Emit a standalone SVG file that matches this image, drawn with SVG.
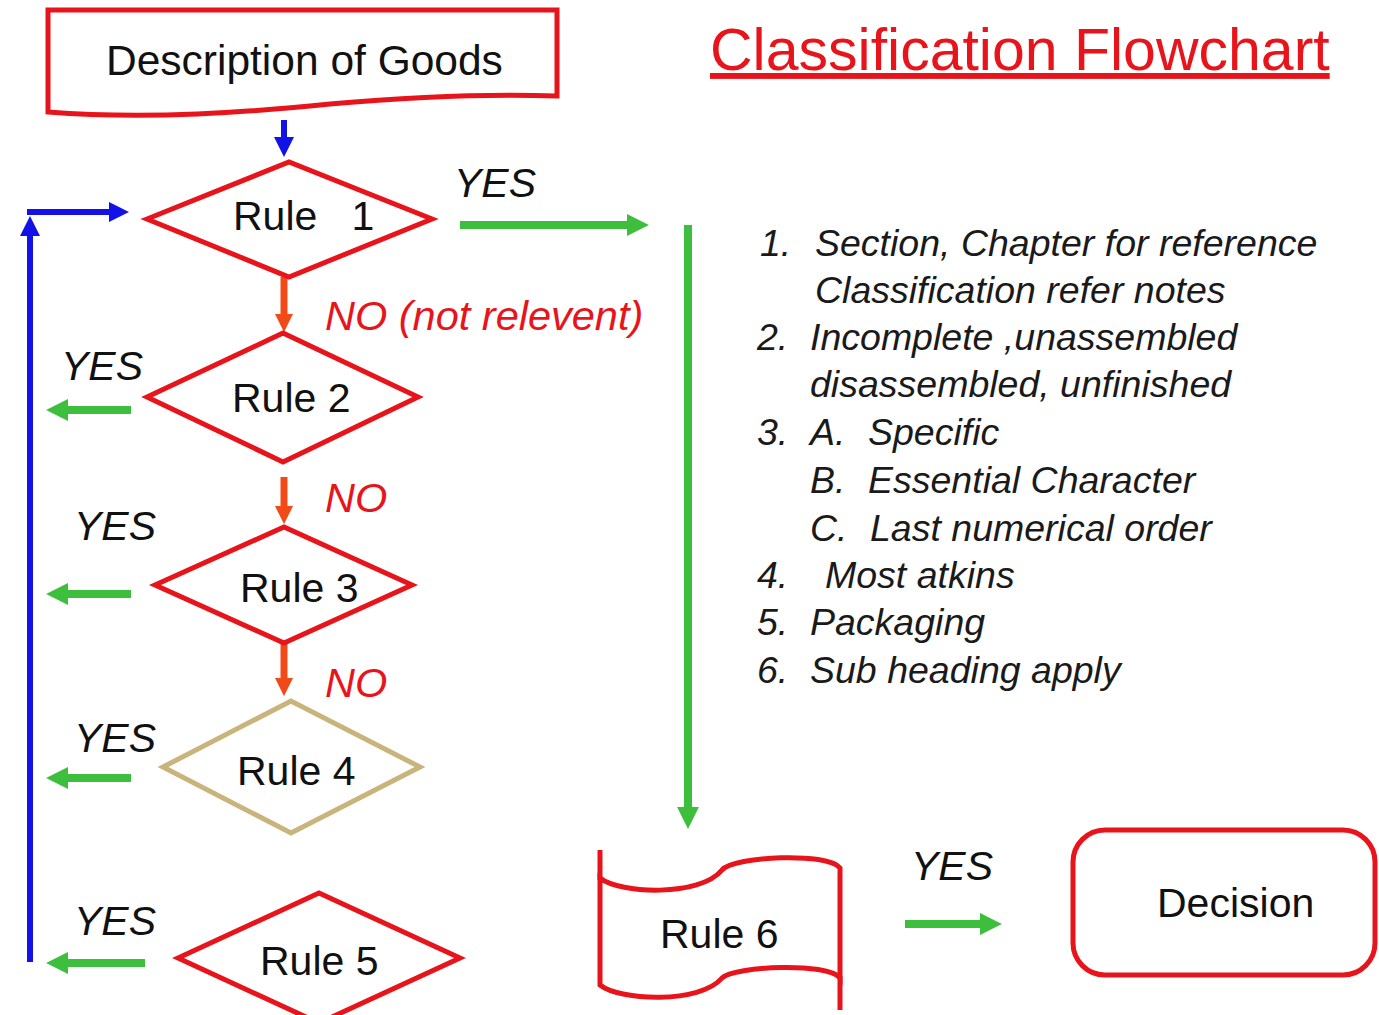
<svg xmlns="http://www.w3.org/2000/svg" width="1379" height="1015" viewBox="0 0 1379 1015">
<style>
.t{font-family:"Liberation Sans",Arial,sans-serif;fill:#111}
.lbl{font-size:41px}
.yes{font-family:"Liberation Sans",Arial,sans-serif;font-style:italic;font-size:41px;fill:#111}
.no{font-family:"Liberation Sans",Arial,sans-serif;font-style:italic;font-size:41.5px;fill:#E8141B}
.li{font-family:"Liberation Sans",Arial,sans-serif;font-style:italic;font-size:37.5px;fill:#1a1a1a}
.red{fill:#fff;stroke:#E8141B;stroke-width:5;stroke-linejoin:miter}
.tan{fill:#fff;stroke:#C9B47C;stroke-width:5}
.g{stroke:#3DBE3D;stroke-width:8;fill:none;marker-end:url(#ag)}
.b{stroke:#1212E8;stroke-width:6;fill:none;marker-end:url(#ab)}
.o{stroke:#F04A18;stroke-width:7;fill:none;marker-end:url(#ao)}
</style>
<defs>
<marker id="ag" viewBox="0 0 10 10" refX="0.5" refY="5" markerUnits="userSpaceOnUse" markerWidth="22" markerHeight="26" orient="auto"><path d="M0,0 L10,5 L0,10 z" fill="#3DBE3D"/></marker>
<marker id="ab" viewBox="0 0 10 10" refX="0.5" refY="5" markerUnits="userSpaceOnUse" markerWidth="20" markerHeight="22" orient="auto"><path d="M0,0 L10,5 L0,10 z" fill="#1212E8"/></marker>
<marker id="ao" viewBox="0 0 10 10" refX="0.5" refY="5" markerUnits="userSpaceOnUse" markerWidth="18" markerHeight="22" orient="auto"><path d="M0,0 L10,5 L0,10 z" fill="#F04A18"/></marker>
</defs>
<rect width="1379" height="1015" fill="#fff"/>

<g id="title">
<text x="710" y="70" font-family="Liberation Sans,Arial,sans-serif" font-size="59" fill="#E8141B" text-decoration="underline">Classification Flowchart</text>
</g>

<g id="connectors">
<line class="b" x1="284" y1="120" x2="284" y2="138"/>
<line class="b" x1="30" y1="962" x2="30" y2="235"/>
<line class="b" x1="27" y1="212" x2="110" y2="212"/>
<line class="g" x1="460" y1="225" x2="628" y2="225"/>
<line class="g" x1="688" y1="225" x2="688" y2="808"/>
<line class="o" x1="284" y1="277" x2="284" y2="315"/>
<line class="o" x1="284" y1="477" x2="284" y2="507"/>
<line class="o" x1="284" y1="643" x2="284" y2="679"/>
<line class="g" x1="131" y1="410" x2="67" y2="410"/>
<line class="g" x1="131" y1="594" x2="67" y2="594"/>
<line class="g" x1="131" y1="778" x2="67" y2="778"/>
<line class="g" x1="145" y1="963" x2="67" y2="963"/>
<line class="g" x1="905" y1="924" x2="981" y2="924"/>
<text class="yes" x="454" y="197">YES</text>
<text class="no" x="325" y="330">NO (not relevent)</text>
<text class="no" x="325" y="512">NO</text>
<text class="no" x="325" y="697">NO</text>
<text class="yes" x="61" y="380">YES</text>
<text class="yes" x="74" y="540">YES</text>
<text class="yes" x="74" y="752">YES</text>
<text class="yes" x="74" y="935">YES</text>
<text class="yes" x="911" y="880">YES</text>
</g>

<g id="description">
<path class="red" d="M48,10 L557,10 L557,96 C500,94 420,96 330,104 C250,112 150,120 48,112 Z"/>
<text class="t" x="106" y="75" font-size="42.5">Description of Goods</text>
</g>

<g id="rule1">
<polygon class="red" points="147,219 289,162 432,219 289,277"/>
<text class="t lbl" x="233" y="230" style="white-space:pre">Rule   1</text>
</g>

<g id="rule2">
<polygon class="red" points="147,397 283,333 418,397 283,462"/>
<text class="t lbl" x="232" y="412">Rule 2</text>
</g>

<g id="rule3">
<polygon class="red" points="155,585 284,527 412,585 284,643"/>
<text class="t lbl" x="240" y="602">Rule 3</text>
</g>

<g id="rule4">
<polygon class="tan" points="163,767 291,701 420,767 291,833"/>
<text class="t lbl" x="237" y="785">Rule 4</text>
</g>

<g id="rule5">
<polygon class="red" points="178,958 319,893 460,958 319,1023"/>
<text class="t lbl" x="260" y="975">Rule 5</text>
</g>

<g id="rule6">
<path class="red" d="M600,878 C620,894 700,897 722,870 C734,856 828,852 840,868 L840,978 C828,962 734,966 722,978 C700,1004 620,1001 600,985 Z"/>
<path d="M600,850 L600,880 M840,976 L840,1010" stroke="#E8141B" stroke-width="5" fill="none"/>
<text class="t lbl" x="660" y="948">Rule 6</text>
</g>

<g id="decision">
<rect class="red" x="1073" y="830" width="302" height="145" rx="32"/>
<text class="t lbl" x="1157" y="917">Decision</text>
</g>

<g id="notes">
<text class="li" x="760" y="256">1.</text><text class="li" x="815" y="256">Section, Chapter for reference</text>
<text class="li" x="815" y="303">Classification refer notes</text>
<text class="li" x="757" y="350">2.</text><text class="li" x="810" y="350">Incomplete ,unassembled</text>
<text class="li" x="810" y="397">disassembled, unfinished</text>
<text class="li" x="757" y="445">3.</text><text class="li" x="810" y="445">A.</text><text class="li" x="868" y="445">Specific</text>
<text class="li" x="810" y="493">B.</text><text class="li" x="868" y="493">Essential Character</text>
<text class="li" x="810" y="541">C.</text><text class="li" x="870" y="541">Last numerical order</text>
<text class="li" x="757" y="588">4.</text><text class="li" x="825" y="588">Most atkins</text>
<text class="li" x="757" y="635">5.</text><text class="li" x="810" y="635">Packaging</text>
<text class="li" x="757" y="683">6.</text><text class="li" x="810" y="683">Sub heading apply</text>
</g>
</svg>
